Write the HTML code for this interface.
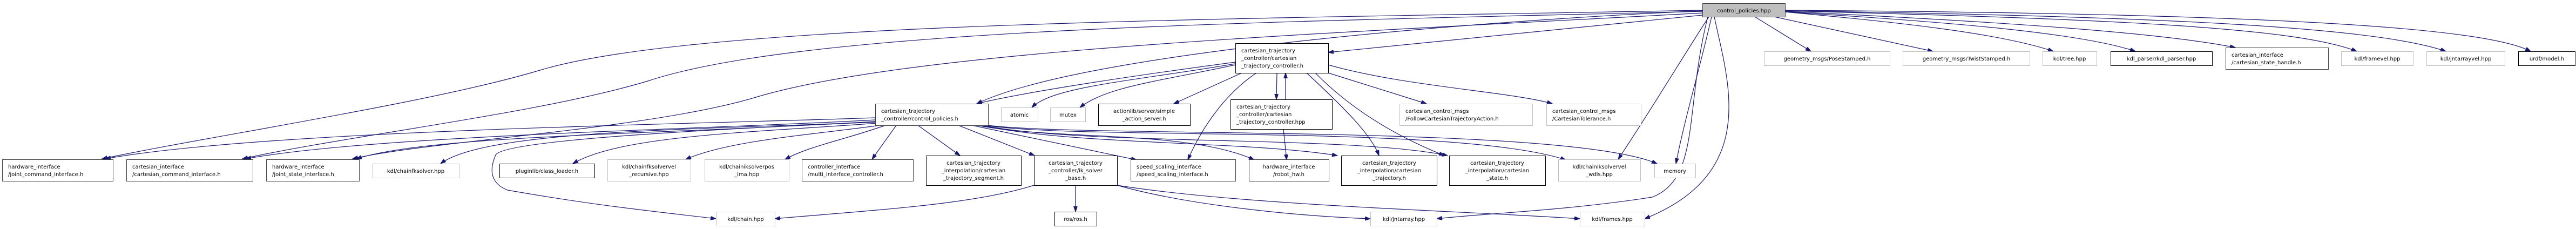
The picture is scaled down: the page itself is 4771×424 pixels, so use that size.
<!DOCTYPE html>
<html><head><meta charset="utf-8"><style>
html,body{margin:0;padding:0;background:#fff;}
svg{display:block;}
text{font-family:"DejaVu Sans","Liberation Sans",sans-serif;font-size:10px;fill:#000;}
.e{fill:none;stroke:#191970;stroke-width:1.2;marker-end:url(#ah);}
.nb{fill:#fff;stroke:#000;stroke-width:1;}
.nd{fill:#fff;stroke:#404040;stroke-width:1;}
.nl{fill:#fff;stroke:#bfbfbf;stroke-width:1;}
.nm{fill:#bfbfbf;stroke:#404040;stroke-width:1;}
.c{text-anchor:middle;}
</style></head><body>
<svg width="4771" height="424" viewBox="0 0 4771 424" xmlns="http://www.w3.org/2000/svg">
<defs><marker id="ah" markerUnits="userSpaceOnUse" markerWidth="11" markerHeight="8" refX="10" refY="3.5" orient="auto"><polygon points="0,0 10,3.5 0,7" fill="#191970" stroke="#191970"/></marker></defs>
<g>
<path class="e" d="M3153,20 C2700,40 2000,100 1809,192"/>
<path class="e" d="M3153,19 C2300,35 1300,40 1000,130 C800,190 400,250 189,294"/>
<path class="e" d="M3153,21 C2400,40 1500,50 1200,150 C1000,210 650,250 449,294"/>
<path class="e" d="M3153,24 C2500,60 1700,90 1400,180 C1200,240 800,260 653,294"/>
<path class="e" d="M3153,28 L2460,97"/>
<path class="e" d="M3165,31 C3120,100 3060,200 2997,295"/>
<path class="e" d="M3170,31 C3150,120 3120,220 3104,303"/>
<path class="e" d="M3163,31 C3120,200 3150,330 3060,365 C2900,390 2750,395 2661,405"/>
<path class="e" d="M3175,31 C3200,150 3260,320 3046,405"/>
<path class="e" d="M3250,31 L3354,95"/>
<path class="e" d="M3286,31 L3580,95"/>
<path class="e" d="M3306,22 C3500,40 3700,60 3803,95"/>
<path class="e" d="M3306,22 C3600,40 3850,60 3955,95"/>
<path class="e" d="M3306,21 C3700,40 4000,60 4140,88"/>
<path class="e" d="M3306,20 C3900,35 4250,50 4365,95"/>
<path class="e" d="M3306,20 C4000,30 4400,50 4530,95"/>
<path class="e" d="M3306,19 C4200,25 4600,50 4687,95"/>
<path class="e" d="M1621,218 C1300,230 500,240 195,294"/>
<path class="e" d="M1621,222 C1300,240 700,250 455,294"/>
<path class="e" d="M1621,225 C1200,250 800,250 660,294"/>
<path class="e" d="M1621,226 C1300,240 900,240 816,303"/>
<path class="e" d="M1625,228 C1400,245 1150,250 1061,303"/>
<path class="e" d="M1630,232 C1500,250 1350,260 1270,295"/>
<path class="e" d="M1640,232 C1560,260 1500,270 1454,295"/>
<path class="e" d="M1660,232 L1615,295"/>
<path class="e" d="M1700,232 L1778,288"/>
<path class="e" d="M1775,232 L1916,288"/>
<path class="e" d="M1800,232 L2105,296"/>
<path class="e" d="M1810,232 C1950,260 2200,240 2323,296"/>
<path class="e" d="M1815,232 C2000,270 2300,260 2477,288"/>
<path class="e" d="M1820,232 C2000,270 2500,250 2681,288"/>
<path class="e" d="M1825,232 C2000,260 2700,230 2900,296"/>
<path class="e" d="M1830,232 C2000,255 2900,230 3069,303"/>
<path class="e" d="M1621,226 C1300,240 930,260 918,287 C905,317 910,340 940,352 C1100,380 1200,390 1326,405"/>
<path class="e" d="M2288,115 C2100,140 1900,170 1809,192"/>
<path class="e" d="M2288,118 C2100,150 1950,160 1911,199"/>
<path class="e" d="M2288,120 C2150,150 2050,160 2000,199"/>
<path class="e" d="M2300,135 L2174,192"/>
<path class="e" d="M2365,135 L2364,184"/>
<path class="e" d="M2381,184 L2381,135"/>
<path class="e" d="M2460,135 L2642,192"/>
<path class="e" d="M2460,120 C2600,160 2800,170 2875,192"/>
<path class="e" d="M2327,135 C2260,180 2220,250 2200,296"/>
<path class="e" d="M2420,135 C2490,200 2540,250 2554,288"/>
<path class="e" d="M2436,135 C2500,200 2580,250 2675,288"/>
<path class="e" d="M2377,239 L2383,296"/>
<path class="e" d="M1992,343 L1992,392"/>
<path class="e" d="M2069,343 C2200,380 2400,400 2538,405"/>
<path class="e" d="M2069,343 C2300,380 2700,390 2926,405"/>
<path class="e" d="M1915,343 C1800,380 1600,390 1435,405"/>
</g>
<g>
<rect class="nm" x="3153.5" y="6.5" width="153" height="25"/><text class="c" x="3230" y="23">control_policies.hpp</text>
<rect class="nd" x="4.5" y="295.5" width="205" height="40"/><text x="15" y="312">hardware_interface</text><text x="15" y="326">/joint_command_interface.h</text>
<rect class="nd" x="234.5" y="295.5" width="234" height="40"/><text x="245" y="312">cartesian_interface</text><text x="245" y="326">/cartesian_command_interface.h</text>
<rect class="nd" x="493.5" y="295.5" width="172" height="40"/><text x="504" y="312">hardware_interface</text><text x="504" y="326">/joint_state_interface.h</text>
<rect class="nl" x="690.5" y="303.5" width="160" height="26"/><text class="c" x="770" y="320">kdl/chainfksolver.hpp</text>
<rect class="nb" x="925.5" y="303.5" width="176" height="26"/><text class="c" x="1013" y="320">pluginlib/class_loader.h</text>
<rect class="nl" x="1125.5" y="295.5" width="154" height="40"/><text class="c" x="1202" y="312">kdl/chainfksolvervel</text><text class="c" x="1202" y="326">_recursive.hpp</text>
<rect class="nl" x="1305.5" y="295.5" width="156" height="40"/><text class="c" x="1383" y="312">kdl/chainiksolverpos</text><text class="c" x="1383" y="326">_lma.hpp</text>
<rect class="nd" x="1485.5" y="295.5" width="206" height="40"/><text x="1496" y="312">controller_interface</text><text x="1496" y="326">/multi_interface_controller.h</text>
<rect class="nl" x="1326.5" y="392.5" width="109" height="26"/><text class="c" x="1381" y="409">kdl/chain.hpp</text>
<rect class="nd" x="1621.5" y="192.5" width="209" height="40"/><text x="1632" y="209">cartesian_trajectory</text><text x="1632" y="223">_controller/control_policies.h</text>
<rect class="nl" x="1854.5" y="199.5" width="68" height="26"/><text class="c" x="1888" y="216">atomic</text>
<rect class="nl" x="1945.5" y="199.5" width="65" height="26"/><text class="c" x="1978" y="216">mutex</text>
<rect class="nb" x="2034.5" y="192.5" width="170" height="40"/><text class="c" x="2119" y="209">actionlib/server/simple</text><text class="c" x="2119" y="223">_action_server.h</text>
<rect class="nb" x="2288.5" y="80.5" width="172" height="55"/><text x="2299" y="97">cartesian_trajectory</text><text x="2299" y="111">_controller/cartesian</text><text x="2299" y="125">_trajectory_controller.h</text>
<rect class="nb" x="2279.5" y="184.5" width="188" height="55"/><text x="2290" y="201">cartesian_trajectory</text><text x="2290" y="215">_controller/cartesian</text><text x="2290" y="229">_trajectory_controller.hpp</text>
<rect class="nl" x="2592.5" y="192.5" width="246" height="40"/><text x="2603" y="209">cartesian_control_msgs</text><text x="2603" y="223">/FollowCartesianTrajectoryAction.h</text>
<rect class="nl" x="2864.5" y="192.5" width="175" height="40"/><text x="2875" y="209">cartesian_control_msgs</text><text x="2875" y="223">/CartesianTolerance.h</text>
<rect class="nb" x="1715.5" y="288.5" width="176" height="55"/><text class="c" x="1803" y="305">cartesian_trajectory</text><text class="c" x="1803" y="319">_interpolation/cartesian</text><text class="c" x="1803" y="333">_trajectory_segment.h</text>
<rect class="nb" x="1915.5" y="288.5" width="154" height="55"/><text class="c" x="1992" y="305">cartesian_trajectory</text><text class="c" x="1992" y="319">_controller/ik_solver</text><text class="c" x="1992" y="333">_base.h</text>
<rect class="nd" x="2094.5" y="295.5" width="194" height="40"/><text x="2105" y="312">speed_scaling_interface</text><text x="2105" y="326">/speed_scaling_interface.h</text>
<rect class="nd" x="2313.5" y="295.5" width="148" height="40"/><text class="c" x="2387" y="312">hardware_interface</text><text class="c" x="2387" y="326">/robot_hw.h</text>
<rect class="nb" x="2484.5" y="288.5" width="177" height="55"/><text class="c" x="2573" y="305">cartesian_trajectory</text><text class="c" x="2573" y="319">_interpolation/cartesian</text><text class="c" x="2573" y="333">_trajectory.h</text>
<rect class="nb" x="2684.5" y="288.5" width="178" height="55"/><text class="c" x="2773" y="305">cartesian_trajectory</text><text class="c" x="2773" y="319">_interpolation/cartesian</text><text class="c" x="2773" y="333">_state.h</text>
<rect class="nl" x="2886.5" y="295.5" width="152" height="40"/><text class="c" x="2962" y="312">kdl/chainiksolvervel</text><text class="c" x="2962" y="326">_wdls.hpp</text>
<rect class="nl" x="3064.5" y="303.5" width="76" height="26"/><text class="c" x="3102" y="320">memory</text>
<rect class="nb" x="1953.5" y="392.5" width="78" height="26"/><text class="c" x="1992" y="409">ros/ros.h</text>
<rect class="nl" x="2538.5" y="392.5" width="123" height="26"/><text class="c" x="2600" y="409">kdl/jntarray.hpp</text>
<rect class="nl" x="2926.5" y="392.5" width="120" height="26"/><text class="c" x="2986" y="409">kdl/frames.hpp</text>
<rect class="nl" x="3267.5" y="95.5" width="233" height="26"/><text class="c" x="3384" y="112">geometry_msgs/PoseStamped.h</text>
<rect class="nl" x="3524.5" y="95.5" width="235" height="26"/><text class="c" x="3642" y="112">geometry_msgs/TwistStamped.h</text>
<rect class="nl" x="3783.5" y="95.5" width="100" height="26"/><text class="c" x="3833" y="112">kdl/tree.hpp</text>
<rect class="nb" x="3909.5" y="95.5" width="188" height="26"/><text class="c" x="4003" y="112">kdl_parser/kdl_parser.hpp</text>
<rect class="nd" x="4122.5" y="88.5" width="190" height="40"/><text x="4133" y="105">cartesian_interface</text><text x="4133" y="119">/cartesian_state_handle.h</text>
<rect class="nl" x="4336.5" y="95.5" width="133" height="26"/><text class="c" x="4403" y="112">kdl/framevel.hpp</text>
<rect class="nl" x="4494.5" y="95.5" width="145" height="26"/><text class="c" x="4567" y="112">kdl/jntarrayvel.hpp</text>
<rect class="nb" x="4664.5" y="95.5" width="105" height="26"/><text class="c" x="4717" y="112">urdf/model.h</text>
</g>
</svg>
</body></html>
